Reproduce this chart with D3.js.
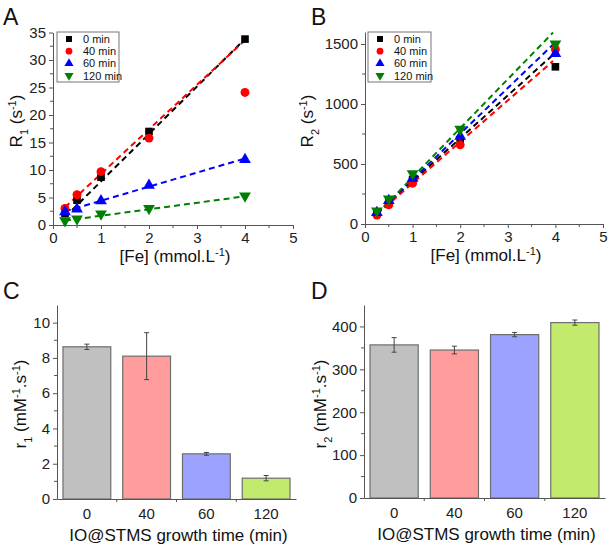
<!DOCTYPE html>
<html>
<head>
<meta charset="utf-8">
<script src="https://cdn.jsdelivr.net/npm/d3@7"></script>
<style>
body{margin:0;background:#fff;}
svg{font-family:"Liberation Sans",Arial,sans-serif;}
</style>
</head>
<body>
<svg id="c" width="611" height="546"></svg>
<script>
// ---------- data ----------
const fe = [0.25, 0.5, 1, 2, 4];
const seriesNames = ["0 min", "40 min", "60 min", "120 min"];
const seriesColors = ["#000000", "#ff0000", "#0000ff", "#008000"];
const seriesSymbols = ["square", "circle", "triangle", "triangleDown"];

// Panel A: R1 (s^-1)
const R1_0 = [2.1, 4.5, 8.7, 17.0, 33.8];
const R1_40 = [3.0, 5.5, 9.7, 15.8, 24.1];
const R1_60 = [2.4, 2.9, 4.4, 7.2, 11.9];
const R1_120 = [0.8, 1.1, 2.0, 3.0, 5.3];
const R1fitSlope = [8.63, 8.10, 2.56, 1.18];
const R1fitIntercept = [-0.7, 1.2, 1.85, 0.5];

// Panel B: R2 (s^-1)
const R2_0 = [90, 180, 370, 700, 1310];
const R2_40 = [75, 160, 340, 660, 1455];
const R2_60 = [95, 195, 380, 730, 1420];
const R2_120 = [110, 210, 420, 790, 1500];
const R2fitSlope = [357, 345, 381, 409];
const R2fitIntercept = [0, -5, -10, -20];

// Panels C, D: relaxivities
const growthTimes = ["0", "40", "60", "120"];
const r1Values = [8.63, 8.10, 2.56, 1.18];
const r1Errors = [0.15, 1.33, 0.08, 0.15];
const r2Values = [357, 345, 381, 409];
const r2Errors = [17, 9, 5, 6];
const barColors = ["#c0c0c0", "#ff9c9c", "#9ca2ff", "#c2ea6c"];

const xTicksFe = [0, 1, 2, 3, 4, 5];

// ---------- drawing ----------
const svg = d3.select("#c");
const axisColor = "#555";
const fmt = d3.format("d");

function styleAxis(g) {
  g.attr("font-size", null).attr("font-family", null);
  g.selectAll("path.domain").attr("stroke", axisColor).attr("stroke-width", 1);
  g.selectAll(".tick line").attr("stroke", axisColor);
  g.selectAll(".tick text").attr("fill", "#222").style("font-size", "15px");
}

function minorTicks(g, scale, values, orient) {
  g.selectAll(null).data(values).enter().append("line")
    .attr("stroke", axisColor)
    .each(function (d) {
      const s = d3.select(this);
      if (orient === "left") s.attr("x1", 0).attr("x2", -3).attr("y1", scale(d)).attr("y2", scale(d));
      else s.attr("y1", 0).attr("y2", 3).attr("x1", scale(d)).attr("x2", scale(d));
    });
}

function symbolPath(type, size) {
  const map = { square: d3.symbolSquare, circle: d3.symbolCircle, triangle: d3.symbolTriangle };
  if (type === "triangleDown") return d3.symbol(d3.symbolTriangle, size)();
  return d3.symbol(map[type], size)();
}

function addLetter(x, y, t) {
  svg.append("text").attr("x", x).attr("y", y).text(t)
    .style("font-size", "23px").attr("fill", "#111");
}

// segments: [text, "n"|"sub"|"sup"]
function richText(sel, segs) {
  segs.forEach(([s, k]) => {
    const ts = sel.append("tspan").text(s);
    if (k === "sub") ts.attr("baseline-shift", "sub").style("font-size", "11px");
    if (k === "sup") ts.attr("baseline-shift", "super").style("font-size", "11px");
  });
}

function yTitle(x, y, segs) {
  const t = svg.append("text")
    .attr("transform", `translate(${x},${y}) rotate(-90)`)
    .attr("text-anchor", "middle").style("font-size", "17px").attr("fill", "#111");
  richText(t, segs);
}

function scatterPanel(opts) {
  const { x0, x1, y0, y1, yMax, yMajor, yMinorStep, data, slopes, intercepts, fitEnd, legendX, legendY, legendW } = opts;
  const x = d3.scaleLinear().domain([0, 5]).range([x0, x1]);
  const y = d3.scaleLinear().domain([0, yMax]).range([y0, y1]);

  const gx = svg.append("g").attr("transform", `translate(0,${y0})`)
    .call(d3.axisBottom(x).tickValues(xTicksFe).tickFormat(fmt).tickSize(4).tickSizeOuter(0).tickPadding(3));
  styleAxis(gx);
  minorTicks(gx, x, d3.range(0.5, 5, 1), "bottom");

  const gy = svg.append("g").attr("transform", `translate(${x0},0)`)
    .call(d3.axisLeft(y).tickValues(yMajor).tickFormat(fmt).tickSize(4).tickSizeOuter(0).tickPadding(3));
  styleAxis(gy);
  minorTicks(gy, y, d3.range(yMinorStep, yMax, yMinorStep * 2), "left");

  slopes.forEach((m, i) => {
    const xs = [0.25, fitEnd];
    svg.append("line")
      .attr("x1", x(xs[0])).attr("y1", y(m * xs[0] + intercepts[i]))
      .attr("x2", x(xs[1])).attr("y2", y(m * xs[1] + intercepts[i]))
      .attr("stroke", seriesColors[i]).attr("stroke-width", 2)
      .attr("stroke-dasharray", "6,4");
  });

  const sizes = [58, 62, 60, 60];
  data.forEach((vals, i) => {
    svg.append("g").selectAll("path").data(vals).enter().append("path")
      .attr("d", symbolPath(seriesSymbols[i], sizes[i]))
      .attr("transform", (d, j) => `translate(${x(fe[j])},${y(d)})${seriesSymbols[i] === "triangleDown" ? " rotate(180)" : ""}`)
      .attr("fill", seriesColors[i]);
  });

  const lg = svg.append("g").attr("transform", `translate(${legendX},${legendY})`);
  lg.append("rect").attr("width", legendW).attr("height", 50)
    .attr("fill", "#fff").attr("stroke", "#777").attr("stroke-width", 1);
  seriesNames.forEach((n, i) => {
    const yy = 7 + i * 12.2;
    lg.append("path").attr("d", symbolPath(seriesSymbols[i], 36))
      .attr("transform", `translate(12,${yy})${seriesSymbols[i] === "triangleDown" ? " rotate(180)" : ""}`)
      .attr("fill", seriesColors[i]);
    lg.append("text").attr("x", 26).attr("y", yy + 4).text(n)
      .style("font-size", "11px").attr("fill", "#111");
  });

  const t = svg.append("text").attr("x", (x0 + x1) / 2 + 2).attr("y", y0 + 37)
    .attr("text-anchor", "middle").style("font-size", "17px").attr("fill", "#111");
  richText(t, [["[Fe] (mmol.L", "n"], ["-1", "sup"], [")", "n"]]);
}

function barPanel(opts) {
  const { x0, x1, y0, y1, yMax, yMajor, yMinorStep, values, errors } = opts;
  const x = d3.scaleBand().domain(growthTimes).range([x0, x1]).paddingInner(0.2).paddingOuter(0.1);
  const y = d3.scaleLinear().domain([0, yMax]).range([y0, y1]);

  svg.append("g").selectAll("rect").data(values).enter().append("rect")
    .attr("x", (d, i) => x(growthTimes[i]))
    .attr("y", d => y(d))
    .attr("width", x.bandwidth())
    .attr("height", d => y0 - y(d))
    .attr("fill", (d, i) => barColors[i])
    .attr("stroke", "#6e6e6e").attr("stroke-width", 1.2);

  const eg = svg.append("g").attr("stroke", "#444").attr("stroke-width", 1);
  values.forEach((v, i) => {
    const cx = x(growthTimes[i]) + x.bandwidth() / 2;
    const lo = y(v - errors[i]), hi = y(v + errors[i]);
    eg.append("line").attr("x1", cx).attr("x2", cx).attr("y1", lo).attr("y2", hi);
    eg.append("line").attr("x1", cx - 2.5).attr("x2", cx + 2.5).attr("y1", lo).attr("y2", lo);
    eg.append("line").attr("x1", cx - 2.5).attr("x2", cx + 2.5).attr("y1", hi).attr("y2", hi);
  });

  const gx = svg.append("g").attr("transform", `translate(0,${y0})`)
    .call(d3.axisBottom(x).tickSize(0).tickSizeOuter(0).tickPadding(9));
  styleAxis(gx);
  const bounds = growthTimes.slice(1).map((g) => x(g) - x.step() * 0.1);
  gx.selectAll(null).data(bounds).enter().append("line")
    .attr("x1", d => d).attr("x2", d => d).attr("y1", 0).attr("y2", 3).attr("stroke", axisColor);

  const gy = svg.append("g").attr("transform", `translate(${x0},0)`)
    .call(d3.axisLeft(y).tickValues(yMajor).tickFormat(fmt).tickSize(4).tickSizeOuter(0).tickPadding(3));
  styleAxis(gy);
  minorTicks(gy, y, d3.range(yMinorStep, yMax, yMinorStep * 2), "left");

  svg.append("text").attr("x", (x0 + x1) / 2 + 2).attr("y", y0 + 42)
    .attr("text-anchor", "middle").style("font-size", "17px").attr("fill", "#111")
    .text("IO@STMS growth time (min)");
}

// Panel A
scatterPanel({
  x0: 53, x1: 293, y0: 225, y1: 32.5, yMax: 35,
  yMajor: d3.range(0, 36, 5), yMinorStep: 2.5,
  data: [R1_0, R1_40, R1_60, R1_120],
  slopes: R1fitSlope, intercepts: R1fitIntercept, fitEnd: 4,
  legendX: 57, legendY: 32, legendW: 62
});
addLetter(3, 25, "A");
yTitle(22, 121, [["R", "n"], ["1", "sub"], [" (s", "n"], ["-1", "sup"], [")", "n"]]);

// Panel B
scatterPanel({
  x0: 365, x1: 603, y0: 224, y1: 32, yMax: 1600,
  yMajor: [0, 500, 1000, 1500], yMinorStep: 250,
  data: [R2_0, R2_40, R2_60, R2_120],
  slopes: R2fitSlope, intercepts: R2fitIntercept, fitEnd: 3.95,
  legendX: 368, legendY: 32, legendW: 63
});
addLetter(311, 25, "B");
yTitle(313, 121, [["R", "n"], ["2", "sub"], [" (s", "n"], ["-1", "sup"], [")", "n"]]);

// Panel C
barPanel({
  x0: 57, x1: 296, y0: 499, y1: 305, yMax: 11,
  yMajor: d3.range(0, 11, 2), yMinorStep: 1,
  values: r1Values, errors: r1Errors
});
addLetter(3, 299, "C");
yTitle(26, 404, [["r", "n"], ["1", "sub"], [" (mM", "n"], ["-1", "sup"], [".s", "n"], ["-1", "sup"], [")", "n"]]);

// Panel D
barPanel({
  x0: 364, x1: 605, y0: 498, y1: 305, yMax: 450,
  yMajor: d3.range(0, 401, 100), yMinorStep: 50,
  values: r2Values, errors: r2Errors
});
addLetter(311, 299, "D");
yTitle(326, 404, [["r", "n"], ["2", "sub"], [" (mM", "n"], ["-1", "sup"], [".s", "n"], ["-1", "sup"], [")", "n"]]);
</script>
</body>
</html>
